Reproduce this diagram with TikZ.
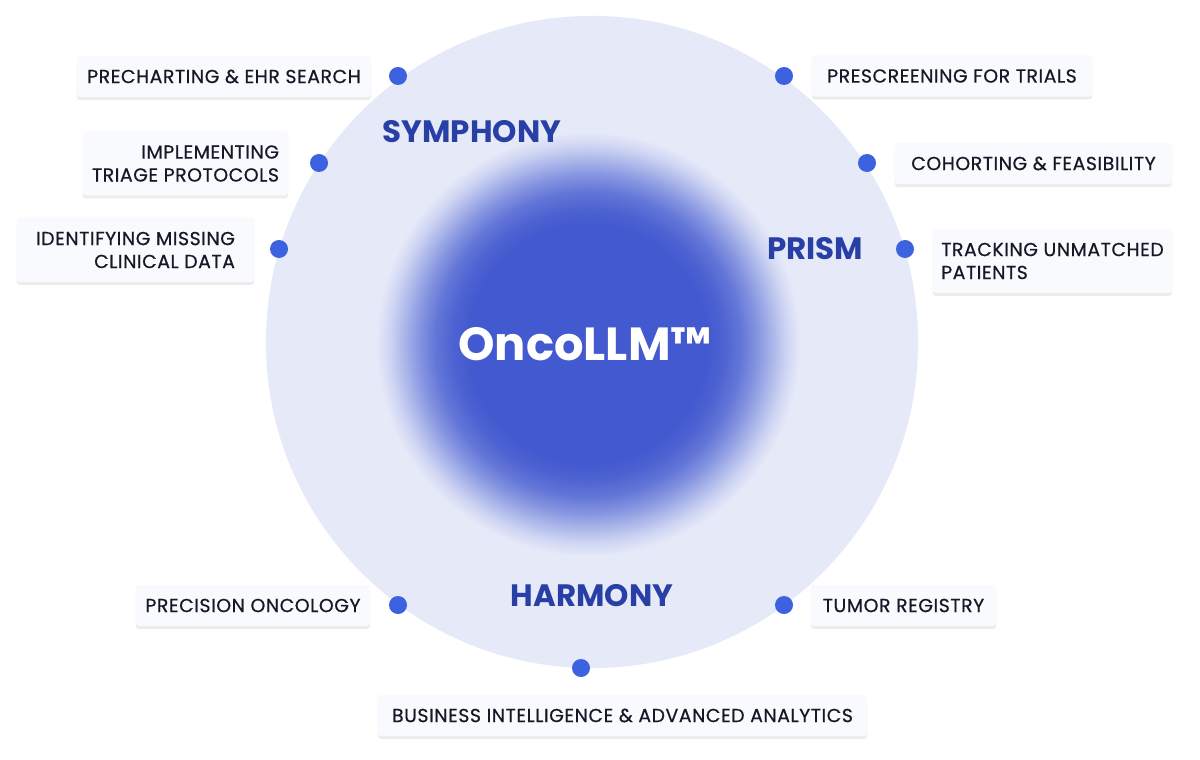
\documentclass[tikz,border=0pt]{standalone}
\usepackage{fontspec}
\setmainfont{Poppins}
\newfontfamily\tagfont[LetterSpace=3, FakeBold=0.6]{Poppins}
\usetikzlibrary{shadows}
\definecolor{haze}{RGB}{229,233,248}
\definecolor{core}{RGB}{66,89,207}
\definecolor{dotblue}{RGB}{61,98,223}
\definecolor{groupblue}{RGB}{40,64,166}
\definecolor{ink}{RGB}{22,24,40}
\definecolor{tagfill}{RGB}{249,250,253}
\pgfdeclareradialshading{glow}{\pgfpoint{0bp}{0bp}}{color(0bp)=(core); color(14bp)=(core); color(16bp)=(core!93!haze); color(18bp)=(core!80!haze); color(20bp)=(core!58!haze); color(22bp)=(core!32!haze); color(23.5bp)=(core!13!haze); color(25bp)=(haze); color(50bp)=(haze)}

\begin{document}
\begin{tikzpicture}[x=0.025cm, y=-0.025cm,
	tag/.style={fill=tagfill, rounded corners=2pt, text=ink, inner xsep=0pt,
		font=\tagfont\fontsize{13.4}{16.3}\selectfont, minimum height=1.025cm,
		drop shadow={shadow xshift=0pt, shadow yshift=-2pt, opacity=0.15}},
	tagtwo/.style={tag, minimum height=1.6cm},
	dot/.style={circle, fill=dotblue, minimum size=0.45cm, inner sep=0pt},
	grouplabel/.style={font=\bfseries\fontsize{22}{26}\selectfont, text=groupblue}]
			%%%%% START %%%%%
			
			\useasboundingbox (0, 0) rectangle (1200, 760);
			\fill[white] (0, 0) rectangle (1200, 760);
			
			\fill[haze] (592, 342) circle[radius=8.15cm];
			\shade[shading=glow] (588, 344) circle[radius=5.3cm];
			\node[font=\bfseries\fontsize{33}{38}\selectfont, text=white] (onco) at (585, 344) {OncoLLM™};
			
			\node[grouplabel] (symphony) at (472, 132) {SYMPHONY};
			\node[grouplabel] (prism) at (815, 249) {PRISM};
			\node[grouplabel] (harmony) at (592, 596) {HARMONY};
			
			\node[tag, minimum width=7.35cm] (precharting) at (224, 76.5) {PRECHARTING \& EHR SEARCH};
			\node[tagtwo, minimum width=5.125cm, align=right] (triage) at (185.5, 163.5) {IMPLEMENTING\\TRIAGE PROTOCOLS};
			\node[tagtwo, minimum width=5.925cm, align=right] (missing) at (135.5, 250) {IDENTIFYING MISSING\\CLINICAL DATA};
			
			\node[tag, minimum width=7cm] (prescreening) at (952, 76) {PRESCREENING FOR TRIALS};
			\node[tag, minimum width=6.925cm] (cohorting) at (1033.5, 163.5) {COHORTING \& FEASIBILITY};
			\node[tagtwo, minimum width=5.975cm, align=left] (unmatched) at (1052.5, 261) {TRACKING UNMATCHED\\PATIENTS};
			
			\node[tag, minimum width=5.85cm] (precision) at (253, 605.5) {PRECISION ONCOLOGY};
			\node[tag, minimum width=4.625cm] (registry) at (903.5, 605.5) {TUMOR REGISTRY};
			\node[tag, minimum width=12.225cm] (analytics) at (622.5, 715.5) {BUSINESS INTELLIGENCE \& ADVANCED ANALYTICS};
			
			\node[dot] (d1) at (398, 76) {};
			\node[dot] (d2) at (319, 163) {};
			\node[dot] (d3) at (279, 249) {};
			\node[dot] (d4) at (784, 76) {};
			\node[dot] (d5) at (867, 163) {};
			\node[dot] (d6) at (905, 249) {};
			\node[dot] (d7) at (398, 605) {};
			\node[dot] (d8) at (784, 605) {};
			\node[dot] (d9) at (581, 668) {};
			
			%%%%% END %%%%%
\end{tikzpicture}
\end{document}
